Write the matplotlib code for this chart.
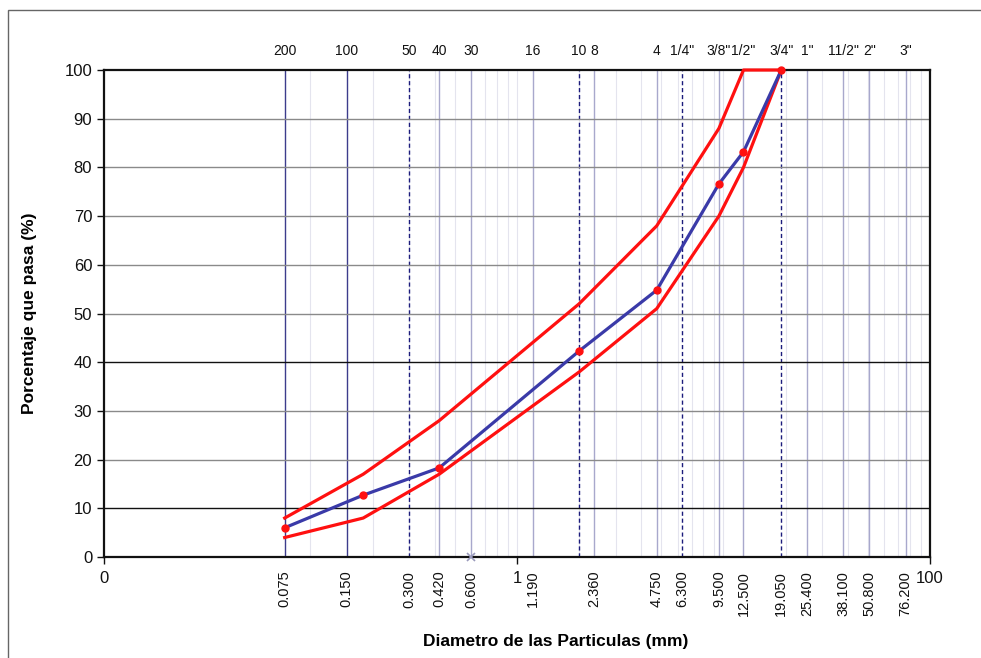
import matplotlib.pyplot as plt
import matplotlib.transforms as mtransforms
from matplotlib.patches import Rectangle

plt.rcParams['font.family'] = ['Liberation Sans', 'DejaVu Sans']

# sieve openings (mm) and their names
sieve_mm = [0.075, 0.150, 0.300, 0.420, 0.600, 1.190, 2.000, 2.360, 4.750, 6.300,
            9.500, 12.500, 19.050, 25.400, 38.100, 50.800, 76.200]
sieve_names = ["200", "100", "50", "40", "30", "16", "10", "8", "4", '1/4"',
               '3/8"', '1/2"', '3/4"', '1"', '11/2"', '2"', '3"']
bottom_labels = ["0.075", "0.150", "0.300", "0.420", "0.600", "1.190", "", "2.360",
                 "4.750", "6.300", "9.500", "12.500", "19.050", "25.400", "38.100",
                 "50.800", "76.200"]
dark_lines = [0.075, 0.150]
dashed_lines = [0.300, 2.000, 6.300, 19.050]

# gradation data
grad_mm = [0.075, 0.180, 0.420, 2.000, 4.750, 9.500, 12.500, 19.050]
upper_limit = [8, 17, 28, 52, 68, 88, 100, 100]
lower_limit = [4, 8, 17, 38, 51, 70, 80, 100]
sample = [6, 12.7, 18.3, 42.3, 54.8, 76.6, 83.2, 100]

fig = plt.figure(figsize=(9.81, 6.58), dpi=100)
ax = fig.add_axes([0.106, 0.1535, 0.842, 0.7401])
ax.set_xscale('log')
ax.set_xlim(0.01, 100)
ax.set_ylim(0, 100)

# faint minor grid
for n in [0.1, 1, 10]:
    for k in range(1, 10):
        ax.axvline(k * n, color='#e4e4ee', lw=0.8, zorder=0)
ax.axvline(100, color='#e4e4ee', lw=0.8, zorder=0)

# sieve lines
for mm in sieve_mm:
    if mm in dark_lines:
        ax.axvline(mm, color='#3c3c8c', lw=1.0, zorder=1)
    elif mm in dashed_lines:
        ax.axvline(mm, color='#1c1c7c', lw=1.0, ls=(0, (3, 2)), zorder=1)
    else:
        ax.axvline(mm, color='#a8a8cc', lw=1.0, zorder=1)

# horizontal grid
for y in range(10, 100, 10):
    c = '#111111' if y in (10, 40) else '#8a8a8a'
    ax.axhline(y, color=c, lw=1.0, zorder=1)

ax.plot(grad_mm, upper_limit, color='#ff1010', lw=2.3, zorder=3, clip_on=False)
ax.plot(grad_mm, lower_limit, color='#ff1010', lw=2.3, zorder=3, clip_on=False)
ax.plot(grad_mm, sample, color='#3a3aa8', lw=2.3, zorder=4, clip_on=False)
ax.plot(grad_mm, sample, ls='none', marker='o', ms=5, color='#ff1010', zorder=5,
        clip_on=False)
ax.plot([0.6], [0], ls='none', marker='x', ms=6, color='#9999bb', mew=1.2,
        zorder=5, clip_on=False)

for s in ax.spines.values():
    s.set_linewidth(1.6)
    s.set_color('#111111')

ax.set_yticks(range(0, 101, 10))
ax.set_xticks([0.01, 1, 100])
ax.set_xticklabels(["0", "1", "100"])
ax.minorticks_off()
ax.tick_params(axis='both', direction='out', length=5, width=1, labelsize=12,
               colors='#111111')
ax.tick_params(axis='x', pad=5)

trans = mtransforms.blended_transform_factory(ax.transData, ax.transAxes)
for mm, name in zip(sieve_mm, sieve_names):
    ax.text(mm, 1.025, name, transform=trans, ha='center', va='bottom',
            fontsize=10, color='#111111')
for mm, lab in zip(sieve_mm, bottom_labels):
    if lab:
        ax.text(mm, -0.028, lab, transform=trans, ha='center', va='top',
                rotation=90, fontsize=10.5, color='#111111')

ax.set_ylabel("Porcentaje que pasa (%)", fontsize=12.5, fontweight='bold', labelpad=20)
fig.text(0.566, 0.025, "Diametro de las Particulas (mm)", ha='center', va='center',
         fontsize=12.5, fontweight='bold')

fig.patches.append(Rectangle((8 / 981, -0.1), 1.1, 1 - 10 / 658 + 0.1,
                             transform=fig.transFigure, fill=False,
                             edgecolor='#666666', lw=1.0))

fig.savefig('out.png', dpi=100)
